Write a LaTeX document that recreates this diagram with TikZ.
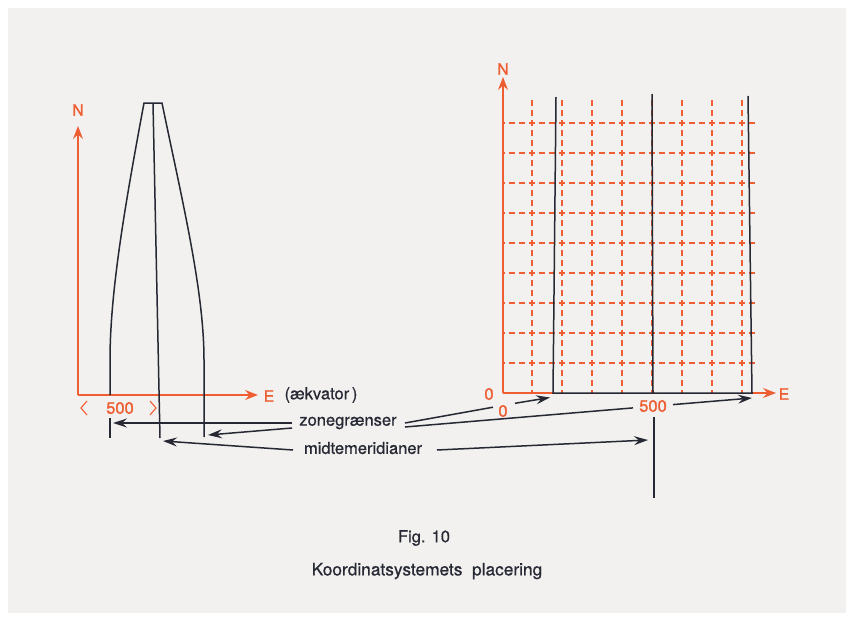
\documentclass[tikz,border=0pt]{standalone}
\usepackage{fontspec}
\setmainfont{TeX Gyre Heros}
\newfontfamily\medfont{TeX Gyre Heros}[FakeBold=0.7]
\newfontfamily\orgfont{TeX Gyre Heros}[FakeBold=1.4]
\usetikzlibrary{arrows.meta}
\definecolor{org}{RGB}{238,94,50}
\definecolor{ink}{RGB}{38,40,52}
\definecolor{paper}{RGB}{242,241,239}
\begin{document}
\begin{tikzpicture}[x=1pt,y=-1pt,
  inkline/.style={draw=ink, line width=1.5pt},
  inkarrow/.style={draw=ink, line width=1.5pt, -{Stealth[length=14pt,width=9pt,inset=5pt]}},
  orgline/.style={draw=org, line width=1.6pt},
  orgarrow/.style={draw=org, line width=1.6pt, -{Stealth[length=13pt,width=10pt,inset=4.5pt]}},
  gridh/.style={draw=org, line width=1.25pt, dash pattern=on 6.5pt off 3.5pt, dash phase=4.25pt},
  gridv/.style={draw=org, line width=1.25pt, dash pattern=on 6.5pt off 3.5pt, dash phase=3.25pt},
  lbl/.style={font=\medfont\fontsize{16.5}{19}\selectfont, text=ink, inner sep=0pt},
  olbl/.style={font=\orgfont\fontsize{15.5}{18}\selectfont, text=org, inner sep=0pt},
  onum/.style={font=\orgfont\fontsize{16.5}{19}\selectfont, text=org, inner sep=0pt},
  captxt/.style={font=\medfont\fontsize{16.5}{19}\selectfont, text=ink, inner sep=0pt}]
\fill[white] (0,0) rectangle (854,621);
\fill[paper] (8,8) rectangle (846,613);
\useasboundingbox (0,0) rectangle (854,621);

% ---------- left figure ----------
\coordinate (oL) at (78,395);
\coordinate (nLtip) at (78,126);
\coordinate (eLtip) at (258,395);
\draw[orgarrow] (oL) -- (nLtip);
\draw[orgarrow] (oL) -- (eLtip);
\node[olbl] (NL) at (78,110) {N};
\node[olbl] (EL) at (269,396) {E};
\node[lbl] (aek) at (321,395) {(ækvator\,)};

% zone curves
\draw[inkline] (110,395) -- (110,360) .. controls (110,290) and (126,200) .. (144,103)
   -- (162,103) .. controls (182,200) and (204,290) .. (204,360) -- (204,437);
\draw[inkline] (153,103) -- (160,438);
\draw[inkline] (110,418) -- (110,438);

% < 500 >
\draw[draw=org, line width=1.1pt] (87,401) -- (81,408) -- (87,415);
\draw[draw=org, line width=1.1pt] (150,401) -- (156,408) -- (150,415);
\node[onum] (fiveL) at (120,408) {500};

% ---------- right figure ----------
\coordinate (oR) at (503,393);
\coordinate (nRtip) at (503,77);
\coordinate (zb1) at (553,393);
\coordinate (zb2) at (752,393);
\coordinate (eRtip) at (776,393);
\foreach \x in {532,562,592,622,652,682,712,742}
  \draw[gridv] (\x,393) -- (\x,100);
\foreach \y in {123,153,183,213,243,273,303,333,363}
  \draw[gridh] (503,\y) -- (757,\y);
\draw[orgarrow] (oR) -- (nRtip);
\draw[orgline] (oR) -- (zb1);
\draw[orgarrow] (zb2) -- (eRtip);
\draw[inkline] (556,97) -- (zb1) -- (zb2) -- (748,96);
\draw[inkline] (652,94) -- (653,393);
\node[olbl] (NR) at (503,69) {N};
\node[olbl] (ER) at (784,394) {E};
\node[onum] (zeroA) at (489,394) {0};
\node[onum] (zeroB) at (503,411) {0};
\node[onum] (fiveR) at (653,406) {500};

% ---------- labels and connectors ----------
\node[lbl] (zone) at (348,423) {zonegrænser};
\node[lbl] (midt) at (363,448) {midtemeridianer};

\coordinate (zl1) at (292,423);
\coordinate (zl2) at (292,428);
\coordinate (ml) at (293,450);
\draw[inkarrow] (zl1) -- (113,423);
\draw[inkarrow] (zl2) -- (208,435);
\draw[inkarrow] (ml) -- (163,441);

\coordinate (zr1) at (405,423);
\coordinate (zr2) at (405,427);
\draw[inkline] (zr1) -- (493,407.2);
\draw[inkarrow] (515,403.3) -- (550,397.5);
\draw[inkline] (zr2) -- (633,407.9);
\draw[inkarrow] (673,404.6) -- (752,398);
\coordinate (mr) at (437,450);
\draw[inkarrow] (mr) -- (648,440);
\draw[inkline] (654,417) -- (654,498);

% caption
\node[captxt] (fig) at (424,538) {Fig. 10};
\node[captxt,font=\medfont\fontsize{17.3}{20}\selectfont] (title) at (427,571) {Koordinatsystemets\ \ placering};
\end{tikzpicture}
\end{document}
